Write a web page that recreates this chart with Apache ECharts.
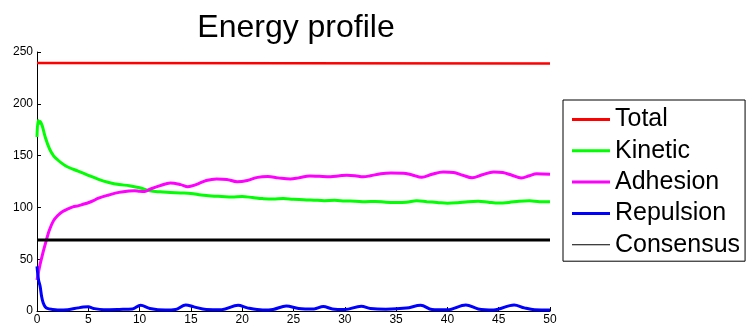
<!DOCTYPE html>
<html><head><meta charset="utf-8">
<script src="https://cdn.jsdelivr.net/npm/echarts@6/dist/echarts.min.js"></script>
<style>html,body{margin:0;padding:0;background:#fff}#c{width:747px;height:328px}</style>
</head><body><div id="c"></div>
<script>
const xTicks = [0,5,10,15,20,25,30,35,40,45,50];
const yTicks = [0,50,100,150,200,250];
const seriesNames = ['Total','Kinetic','Adhesion','Repulsion','Consensus'];

const totalT = [0, 50];
const totalV = [239.3, 238.8];

const kineticT = [0,0.1,0.2,0.3,0.5,0.8,1.2,1.6,2,2.5,3,4,5,6,7,8,9,10,11,12,13,14,15,16,17,18,19,20,21,22,23,24,25,26,27,28,29,30,31,32,33,34,35,36,37,38,39,40,41,42,43,44,45,46,47,48,49,50];
const kineticV = [168,184,181,183,179,168,157,150,146,142,139,135,131,127,124,122,121,119,116,115,114.5,114,113.5,112,111,110.5,110,110.5,109.5,108.5,108,108.5,107.8,107.5,107,106.5,106.8,106.2,106,105.5,105.8,105,104.8,105,106.3,105.5,104.8,104,104.5,105.5,106,105,104.2,104.8,106,106.3,105.5,105.5];

const adhesionT = [0,0.3,0.6,0.9,1.2,1.6,2,2.5,3,3.5,4,4.5,5,5.5,6,7,8,9,9.5,10,10.5,11,12,13,14,14.7,15.5,16.5,17.5,18.5,19.5,20.5,21.5,22.5,23.5,24.7,25.5,26.6,27.5,28.6,29.5,30.2,31,31.8,32.5,33.5,34.5,35.7,36.5,37.5,38.5,39.6,40.6,41.5,42.4,43.4,44.5,45.4,46.3,47.2,48,48.7,50];
const adhesionV = [30,45,57,68,78,87,92,96,98.5,100.5,101.5,103,104.5,106.5,109,112,114.5,115.8,116,115.5,115.3,117.5,121,123.5,122,120,122,126,127.5,127,124.8,126,129,129.8,128.5,127.4,128.5,130.3,130,129.7,130.5,131,130.5,129.5,130.5,132.5,133.2,133,131.5,129,132,134.2,133.6,131,128.7,131.5,134.2,133.6,131,128.4,130.5,132.5,132];

const repulsionT = [0,0.15,0.3,0.45,0.6,0.8,1,1.5,2,3,4,4.5,5,5.5,6.5,8,9.3,10.1,11,12.5,13.5,14.5,15.3,16.5,18,19.6,20.5,22,23,24.3,25.5,27,27.9,28.8,30,31.6,32.5,34,36,37.4,38.5,40,41.8,43,44.5,46.5,47.5,48.5,50];
const repulsionV = [43,30,24,14,8,4,2.5,1.5,1,1.3,3,3.8,4,2.5,1.2,1.5,2,5.5,2.5,1,1.5,5.8,4,1.5,1.3,5.5,3,1,1.5,4.8,2.5,2,4.3,2,1.5,4.6,2.5,1.8,2.8,5.5,1.5,1.2,5.8,2,1,5.8,3,1.2,1];

const consensusT = [0, 50];
const consensusV = [68.5, 68.5];

const zip = (t, v) => t.map((x, i) => [x, v[i]]);
const colors = ['#ff0000','#00ff00','#ff00ff','#0000ff','#000000'];
const dataSets = [zip(totalT,totalV), zip(kineticT,kineticV), zip(adhesionT,adhesionV), zip(repulsionT,repulsionV), zip(consensusT,consensusV)];
const font = '"Liberation Sans", Arial, Helvetica, sans-serif';
const thickIcon = 'path://M0,0H38V3H0Z';
const thinIcon = 'path://M0,1H38V2H0Z M0,0L0.001,0Z M0,3L0.001,3Z';

const chart = echarts.init(document.getElementById('c'), null, {renderer:'canvas'});
chart.setOption({
  animation: false,
  title: {
    text: 'Energy profile', left: 291, top: 7, textAlign: 'center',
    textStyle: {fontFamily: font, fontSize: 32, fontWeight: 'normal', color: '#000'}
  },
  grid: {left: 37, right: 197, top: 52, bottom: 17, containLabel: false},
  xAxis: {
    type: 'value', min: xTicks[0], max: xTicks[xTicks.length-1], interval: 5,
    axisLine: {lineStyle: {color: '#000', width: 1}},
    axisTick: {inside: true, length: 4, lineStyle: {color: '#000'}},
    axisLabel: {fontFamily: font, fontSize: 12, color: '#000', margin: 3},
    splitLine: {show: false}
  },
  yAxis: {
    type: 'value', min: yTicks[0], max: yTicks[yTicks.length-1], interval: 50,
    axisLine: {show: true, lineStyle: {color: '#000', width: 1}},
    axisTick: {show: true, inside: true, length: 4, lineStyle: {color: '#000'}},
    axisLabel: {fontFamily: font, fontSize: 12, color: '#000', margin: 4},
    splitLine: {show: false}
  },
  legend: {
    orient: 'vertical', left: 563, top: 100,
    padding: [7, 5, 4, 9], itemGap: 6.3, itemWidth: 38, itemHeight: 3,
    borderColor: '#000', borderWidth: 1, backgroundColor: '#fff',
    textStyle: {fontFamily: font, fontSize: 25, lineHeight: 25, color: '#000'},
    data: seriesNames.map((n, i) => ({name: n, icon: i === 4 ? thinIcon : thickIcon, itemStyle: {color: colors[i], borderWidth: 0}}))
  },
  series: seriesNames.map((n, i) => ({
    name: n, type: 'line', data: dataSets[i], showSymbol: false, symbol: 'none',
    smooth: i === 0 || i === 4 ? false : 0.35,
    lineStyle: {color: colors[i], width: i === 0 ? 2.5 : 3},
    itemStyle: {color: colors[i]},
    z: i === 3 ? 5 : 2
  }))
});
</script></body></html>
